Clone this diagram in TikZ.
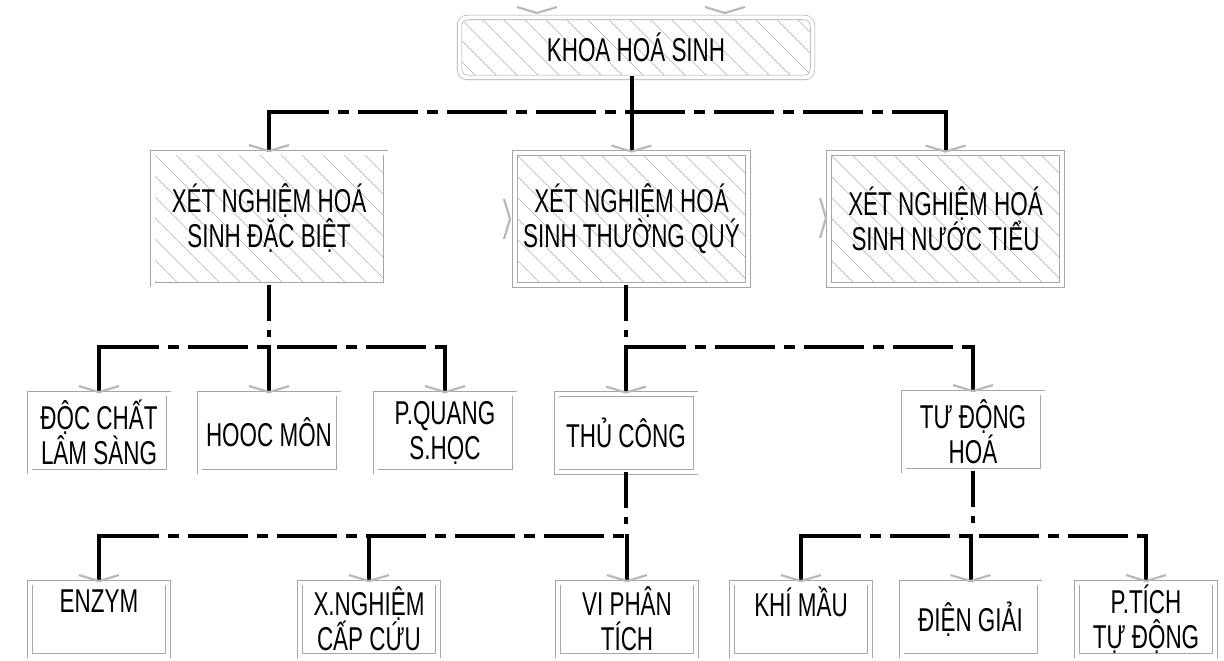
\documentclass[tikz,border=0pt]{standalone}
\usepackage{fontspec}
\setmainfont{Liberation Sans}[FakeStretch=0.68]
\usetikzlibrary{arrows.meta}
\tikzset{
  org text/.style={font=\fontsize{33pt}{35pt}\selectfont, text=black, align=center},
  org box/.style={org text, draw=gray!70, line width=0.6pt, double=white,
    double distance=4pt, fill=white, inner sep=0pt},
  hatched/.style={path picture={
    \foreach \k in {-12,...,20}
      \draw[gray!60, line width=0.5pt, sharp corners]
        ([xshift=\k*21pt]path picture bounding box.north west) -- ++(320pt,-320pt);}},
  head box/.style={org box, hatched, rounded corners=8pt,
    minimum width=353pt, minimum height=60pt},
  dept box/.style={org box, hatched, minimum width=233pt, minimum height=132pt},
  unit box/.style={org box, minimum width=139pt, minimum height=78pt},
  sub box/.style={org box, minimum width=138pt, minimum height=73pt},
  bus/.style={line width=4.5pt, dash pattern=on 60pt off 9pt on 11pt off 9pt},
  stem/.style={line width=4pt, dash pattern=on 36pt off 9pt on 7pt off 30pt},
  drop/.style={line width=4pt, line cap=rect,
    -{Straight Barb[length=6pt,width=40pt,line width=2.2pt,color=gray!55]}},
  chev/.pic={\draw[gray!55, line width=2.2pt] (-20pt,6pt) -- (0,0) -- (20pt,6pt);}
}
\begin{document}
\begin{tikzpicture}[x=1pt, y=-1pt]
  \useasboundingbox (0,0) rectangle (1224,661);
  % top
  \node[head box] (kh) at (636,47.5) {KHOA HOÁ SINH};
  \pic at (537,13) {chev};
  \pic at (725,13) {chev};
  % departments
  \node[dept box] (xd) at (269,218.5) {XÉT NGHIỆM HOÁ\\SINH ĐẶC BIỆT};
  \node[dept box] (xt) at (631.5,219) {XÉT NGHIỆM HOÁ\\SINH THƯỜNG QUÝ};
  \node[dept box] (xn) at (945.5,219) {XÉT NGHIỆM HOÁ\\SINH NƯỚC TIỂU};
  \pic[rotate=90] at (510,219) {chev};
  \pic[rotate=90] at (826,218) {chev};
  % units
  \node[unit box] (dc) at (99,432.5) {ĐỘC CHẤT\\LÂM SÀNG};
  \node[unit box] (hm) at (269,432.5) {HOOC MÔN};
  \node[unit box] (pq) at (445,432.5) {P.QUANG\\S.HỌC};
  \node[unit box] (tc) at (626,433) {THỦ CÔNG};
  \node[unit box] (td) at (973,431.5) {TƯ ĐỘNG\\HOÁ};
  % sub units
  \node[sub box] (en) at (99,619) {ENZYM\\~};
  \node[sub box] (xc) at (369,619) {X.NGHIỆM\\CẤP CỨU};
  \node[sub box] (vp) at (627,619) {VI PHÂN\\TÍCH};
  \node[sub box] (km) at (801,619) {KHÍ MẦU\\~};
  \node[sub box] (dg) at (970.5,619) {ĐIỆN GIẢI};
  \node[sub box] (pt) at (1146,619) {P.TÍCH\\TỰ ĐỘNG};

  \coordinate (bus1) at (0,112);
  \coordinate (bus2) at (0,347);
  \coordinate (bus3) at (0,536);

  % level 1 -> 2
  \draw[bus] (xd.north |- bus1) -- (xn.north |- bus1);
  \draw[drop] (xt.north |- kh.south) -- (xt.north);
  \draw[drop] (xd.north |- bus1) -- (xd.north);
  \draw[drop] (xn.north |- bus1) -- (xn.north);
  % special
  \draw[stem] (xd.south) -- (xd.south |- bus2);
  \draw[bus] (dc.north |- bus2) -- (pq.north |- bus2);
  \foreach \n in {dc,hm,pq}
    \draw[drop] (\n.north |- bus2) -- (\n.north);
  % routine
  \draw[stem] (tc.north |- xt.south) -- (tc.north |- bus2);
  \draw[bus] (tc.north |- bus2) -- (td.north |- bus2);
  \foreach \n in {tc,td}
    \draw[drop] (\n.north |- bus2) -- (\n.north);
  % manual
  \draw[stem] (tc.south) -- (tc.south |- bus3);
  \draw[bus] (en.north |- bus3) -- (vp.north |- bus3);
  \foreach \n in {en,xc,vp}
    \draw[drop] (\n.north |- bus3) -- (\n.north);
  % automated
  \draw[stem] (td.south) -- (td.south |- bus3);
  \draw[bus] (km.north |- bus3) -- (pt.north |- bus3);
  \foreach \n in {km,dg,pt}
    \draw[drop] (\n.north |- bus3) -- (\n.north);
\end{tikzpicture}
\end{document}
